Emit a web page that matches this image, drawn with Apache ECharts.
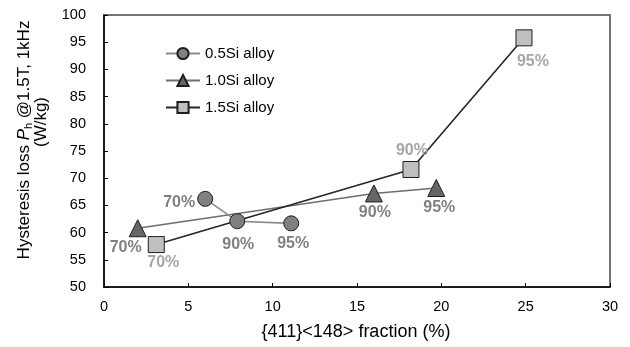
<!DOCTYPE html>
<html>
<head>
<meta charset="utf-8">
<script src="https://cdn.jsdelivr.net/npm/echarts@6/dist/echarts.min.js"></script>
<style>
  html, body { margin: 0; padding: 0; background: #fff; }
  #chart { width: 630px; height: 347px; }
</style>
</head>
<body>
<div id="chart"></div>
<script>
// Hysteresis loss vs {411}<148> texture fraction for three Si contents
const seriesNames = ['0.5Si alloy', '1.0Si alloy', '1.5Si alloy'];
const fraction05 = [6.0, 7.9, 11.1];
const loss05 = [66.2, 62.1, 61.7];
const fraction10 = [2.0, 16.0, 19.7];
const loss10 = [60.8, 67.2, 68.2];
const fraction15 = [3.1, 18.2, 24.9];
const loss15 = [57.8, 71.6, 95.8];
const reductionLabels = ['70%', '90%', '95%'];
const xTickValues = [0, 5, 10, 15, 20, 25, 30];
const yTickValues = [50, 55, 60, 65, 70, 75, 80, 85, 90, 95, 100];

const FONT = '"Liberation Sans", Arial, Helvetica, sans-serif';

// per-point label placement (pixel offsets from the marker centre)
const labelOffsets = [
  [[-26, 4], [1, 23], [2, 20]],
  [[-12, 19], [1, 19], [3, 20]],
  [[7, 18], [1, -19], [9, 24]]
];

const styles = [
  { symbol: 'circle', size: 15, fill: '#808080', line: '#8a8a8a', label: '#808080', z: 4 },
  { symbol: 'triangle', size: 17, fill: '#666666', line: '#6e6e6e', label: '#808080', z: 2 },
  { symbol: 'rect', size: 16, fill: '#bfbfbf', line: '#262626', label: '#a6a6a6', z: 3 }
];

const xs = [fraction05, fraction10, fraction15];
const ys = [loss05, loss10, loss15];

const series = seriesNames.map((name, s) => {
  const st = styles[s];
  return {
    name: name,
    type: 'line',
    z: st.z,
    symbol: st.symbol,
    symbolSize: st.size,
    lineStyle: { color: st.line, width: 1.6 },
    itemStyle: { color: st.fill, borderColor: '#1f1f1f', borderWidth: 1 },
    emphasis: { disabled: true },
    data: xs[s].map((x, i) => ({
      value: [x, ys[s][i]],
      label: {
        show: true,
        position: 'inside',
        offset: labelOffsets[s][i],
        formatter: reductionLabels[i],
        color: st.label,
        fontFamily: FONT,
        fontWeight: 'bold',
        fontSize: 16
      }
    }))
  };
});

const chart = echarts.init(document.getElementById('chart'), null, { renderer: 'canvas' });
chart.setOption({
  animation: false,
  backgroundColor: '#ffffff',
  textStyle: { fontFamily: FONT },
  grid: {
    left: 104, right: 20, top: 15, bottom: 60,
    show: true, borderColor: '#4a4a4a', borderWidth: 1.5, backgroundColor: 'transparent'
  },
  legend: {
    orient: 'vertical',
    left: 165,
    top: 46,
    padding: 0,
    itemGap: 12,
    itemWidth: 34,
    itemHeight: 14,
    data: seriesNames,
    textStyle: { fontFamily: FONT, fontSize: 15, color: '#000' }
  },
  xAxis: {
    type: 'value',
    min: xTickValues[0],
    max: xTickValues[xTickValues.length - 1],
    interval: xTickValues[1] - xTickValues[0],
    axisLine: { show: true, lineStyle: { color: '#000', width: 1.5 } },
    axisTick: { show: true, inside: true, length: 4, lineStyle: { color: '#000' } },
    axisLabel: { fontSize: 14.5, color: '#000', margin: 12, fontFamily: FONT },
    splitLine: { show: false }
  },
  yAxis: {
    type: 'value',
    min: yTickValues[0],
    max: yTickValues[yTickValues.length - 1],
    interval: yTickValues[1] - yTickValues[0],
    axisLine: { show: true, lineStyle: { color: '#000', width: 1.5 } },
    axisTick: { show: true, inside: true, length: 4, lineStyle: { color: '#000' } },
    axisLabel: { fontSize: 14.5, color: '#000', margin: 18, fontFamily: FONT },
    splitLine: { show: false }
  },
  graphic: [
    {
      type: 'text',
      x: 356, y: 332,
      silent: true,
      style: {
        text: '{411}<148> fraction (%)',
        fontFamily: FONT, fontSize: 18, fill: '#000',
        align: 'center', verticalAlign: 'middle'
      }
    },
    {
      type: 'text',
      x: 24, y: 140,
      rotation: Math.PI / 2,
      silent: true,
      style: {
        text: 'Hysteresis loss {i|P}{s|h} @1.5T, 1kHz',
        fontFamily: FONT, fontSize: 17, fill: '#000',
        align: 'center', verticalAlign: 'middle',
        rich: {
          i: { fontFamily: FONT, fontSize: 17, fontStyle: 'italic', fill: '#000' },
          s: { fontFamily: FONT, fontSize: 11, fill: '#000', padding: [10, 0, 0, 0] }
        }
      }
    },
    {
      type: 'text',
      x: 41, y: 122,
      rotation: Math.PI / 2,
      silent: true,
      style: {
        text: '(W/kg)',
        fontFamily: FONT, fontSize: 17, fill: '#000',
        align: 'center', verticalAlign: 'middle'
      }
    }
  ],
  series: series
});
</script>
</body>
</html>
